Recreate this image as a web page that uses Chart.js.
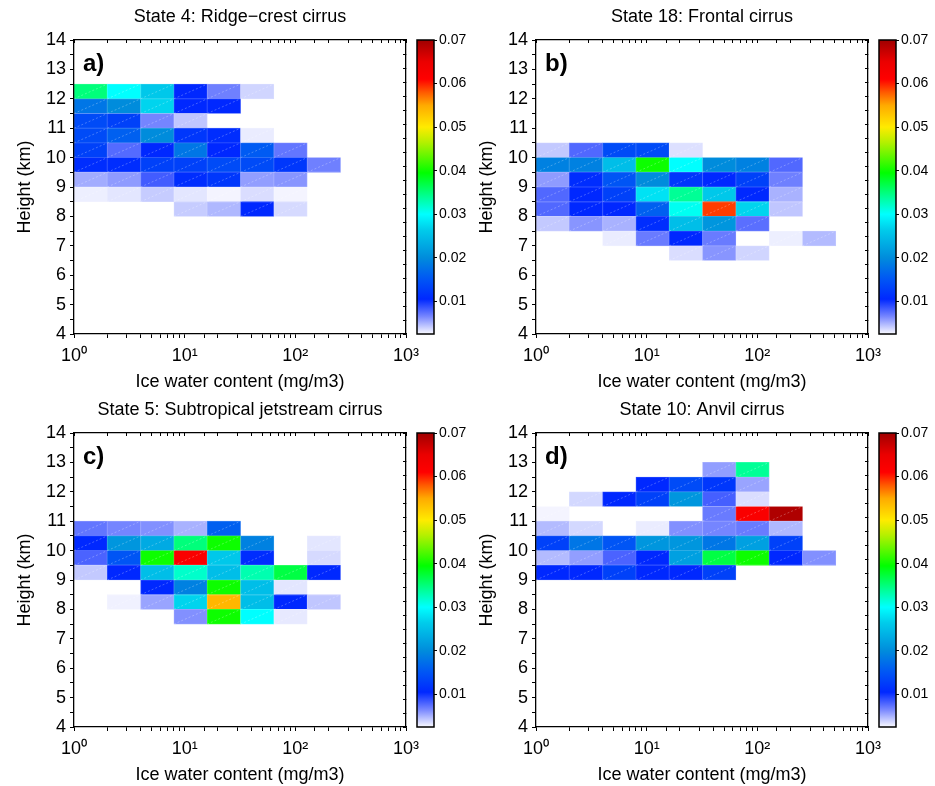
<!DOCTYPE html>
<html>
<head>
<meta charset="utf-8">
<title>Cirrus states: IWC vs height</title>
<script src="https://cdn.jsdelivr.net/npm/chart.js@4.4.1/dist/chart.umd.min.js"></script>
<style>
    html, body { margin: 0; padding: 0; background: #fff; overflow: hidden; }
    #fig { position: relative; width: 935px; height: 786px; overflow: hidden; background: #fff; }
    #fig canvas { position: absolute; }
</style>
</head>
<body>
<div id="fig">
    <canvas id="panelA" width="426" height="395" style="left:0;top:0"></canvas>
    <canvas id="cbarA" width="60" height="395" style="left:410px;top:0"></canvas>
    <canvas id="panelB" width="426" height="395" style="left:462px;top:0"></canvas>
    <canvas id="cbarB" width="60" height="395" style="left:872px;top:0"></canvas>
    <canvas id="panelC" width="426" height="395" style="left:0;top:393px"></canvas>
    <canvas id="cbarC" width="60" height="395" style="left:410px;top:393px"></canvas>
    <canvas id="panelD" width="426" height="395" style="left:462px;top:393px"></canvas>
    <canvas id="cbarD" width="60" height="395" style="left:872px;top:393px"></canvas>
</div>
<script>
// IWC bin edges (mg/m3), factor-2 bins
const iwcEdges = [1, 2, 4, 8, 16, 32, 64, 128, 256, 512];
// height bins are 0.5 km deep; rows below list each bin's lower edge (km)
const heightStep = 0.5;
const cbarTicks = [0.01, 0.02, 0.03, 0.04, 0.05, 0.06, 0.07];

// State 4: Ridge-crest cirrus
const ridgeHeights = [12.0, 11.5, 11.0, 10.5, 10.0, 9.5, 9.0, 8.5, 8.0];
const ridgeFreq = [
    [0.035, 0.030, 0.026, 0.0105, 0.0068, 0.0038, null, null, null],
    [0.018, 0.020, 0.027, 0.0105, 0.0105, null, null, null, null],
    [0.014, 0.013, 0.0066, 0.0043, null, null, null, null, null],
    [0.014, 0.016, 0.020, 0.012, 0.011, 0.0030, null, null, null],
    [0.013, 0.0077, 0.0105, 0.018, 0.0105, 0.0155, 0.0072, null, null],
    [0.011, 0.011, 0.013, 0.013, 0.014, 0.014, 0.012, 0.0068, null],
    [0.0052, 0.0058, 0.0083, 0.011, 0.012, 0.0057, 0.0060, null, null],
    [0.0029, 0.0032, 0.0041, 0.0032, 0.0027, 0.0035, 0.0027, null, null],
    [null, null, null, 0.0041, 0.0048, 0.0105, 0.0036, null, null]
];

// State 18: Frontal cirrus
const frontalHeights = [10.0, 9.5, 9.0, 8.5, 8.0, 7.5, 7.0, 6.5];
const frontalFreq = [
    [0.0042, 0.0078, 0.014, 0.014, 0.0034, null, null, null, null],
    [0.019, 0.019, 0.025, 0.040, 0.030, 0.020, 0.019, 0.0078, null],
    [0.0058, 0.011, 0.015, 0.020, 0.012, 0.0105, 0.013, 0.0068, null],
    [0.0078, 0.0105, 0.013, 0.028, 0.034, 0.026, 0.0105, 0.0050, null],
    [0.0078, 0.0105, 0.0105, 0.016, 0.0305, 0.059, 0.027, 0.0043, null],
    [0.0042, 0.0060, 0.0050, 0.011, 0.025, 0.021, 0.0075, null, null],
    [null, null, 0.0030, 0.0070, 0.0105, 0.0070, null, 0.0029, 0.0047],
    [null, null, null, null, 0.0035, 0.0060, 0.0038, null, null]
];

// State 5: Subtropical jetstream cirrus
const jetHeights = [10.5, 10.0, 9.5, 9.0, 8.5, 8.0, 7.5];
const jetFreq = [
    [0.0072, 0.0066, 0.0062, 0.0050, 0.016, null, null, null, null],
    [0.0105, 0.021, 0.023, 0.035, 0.040, 0.019, null, 0.0032, null],
    [0.0080, 0.015, 0.040, 0.062, 0.026, 0.011, null, 0.0036, null],
    [0.0042, 0.0105, 0.025, 0.032, 0.025, 0.033, 0.037, 0.0105, null],
    [null, null, 0.0105, 0.019, 0.040, 0.025, 0.0032, null, null],
    [null, 0.0028, 0.0055, 0.027, 0.054, 0.025, 0.0105, 0.0043, null],
    [null, null, null, 0.0062, 0.040, 0.030, 0.0031, null, null]
];

// State 10: Anvil cirrus
const anvilHeights = [12.5, 12.0, 11.5, 11.0, 10.5, 10.0, 9.5, 9.0];
const anvilFreq = [
    [null, null, null, null, null, 0.0057, 0.034, null, null],
    [null, null, null, 0.0105, 0.014, 0.012, 0.0055, null, null],
    [null, 0.0037, 0.0105, 0.013, 0.021, 0.0082, 0.0035, null, null],
    [0.0027, null, null, null, null, 0.0070, 0.062, 0.069, null],
    [0.0047, 0.0037, null, 0.0030, 0.0062, 0.0066, 0.0070, 0.0048, null],
    [0.013, 0.018, 0.015, 0.021, 0.021, 0.018, 0.022, 0.013, null],
    [0.0047, 0.0057, 0.0080, 0.0105, 0.022, 0.037, 0.040, 0.0105, 0.0062],
    [0.0105, 0.0105, 0.013, 0.0105, 0.0105, 0.013, null, null, null]
];

// colour scale: white -> blue -> cyan -> green -> yellow -> red -> dark red
const cbarMin = 0.0025;
const cbarMax = 0.07;
const cmapLevels = [0.0025, 0.0065, 0.0105, 0.015, 0.02, 0.0265, 0.03, 0.034, 0.0395, 0.0465, 0.05, 0.055, 0.058, 0.061, 0.065, 0.07];
const cmapColors = [
    [250, 250, 255], [120, 135, 255], [0, 40, 255], [0, 85, 245], [0, 140, 220], [0, 205, 235],
    [0, 255, 255], [0, 255, 150], [0, 255, 0], [180, 240, 0], [255, 235, 0], [255, 170, 0],
    [255, 90, 0], [255, 0, 0], [235, 0, 0], [160, 0, 0]
];

const FONT = "'Liberation Sans', Arial, Helvetica, sans-serif";
Chart.defaults.font.family = FONT;
Chart.defaults.color = '#000';

function mapColor(v) {
    if (v <= cmapLevels[0]) return cmapColors[0];
    for (let i = 1; i < cmapLevels.length; i++) {
        if (v <= cmapLevels[i]) {
            const t = (v - cmapLevels[i - 1]) / (cmapLevels[i] - cmapLevels[i - 1]);
            const a = cmapColors[i - 1], b = cmapColors[i];
            return a.map((c, k) => Math.round(c + (b[k] - c) * t));
        }
    }
    return cmapColors[cmapColors.length - 1];
}
const rgb = c => `rgb(${c[0]},${c[1]},${c[2]})`;
const lighten = (c, f) => rgb(c.map(x => Math.round(x + (255 - x) * f)));

// one floating horizontal bar per non-empty cell
function buildCells(heights, freq) {
    const cells = [];
    heights.forEach((h, r) => {
        freq[r].forEach((v, c) => {
            if (v === null) return;
            cells.push({ y: h + heightStep / 2, x: [iwcEdges[c], iwcEdges[c + 1]], v: v });
        });
    });
    return cells;
}

const SUP = { 0: '\u2070', 1: '\u00B9', 2: '\u00B2', 3: '\u00B3' };
function powerLabel(value) {
    const p = Math.log10(value);
    const r = Math.round(p);
    return Math.abs(p - r) < 1e-9 ? '10' + SUP[r] : '';
}

// axes are sized by hand so the plot box lands in the same place in every panel
function fixSize(prop, size) {
    return s => {
        s[prop] = size;
        s.paddingLeft = s.paddingRight = s.paddingTop = s.paddingBottom = 0;
    };
}

// faint diagonal seams across each cell
const cellSeams = {
    id: 'cellSeams',
    afterDatasetsDraw(chart) {
        const ctx = chart.ctx;
        ctx.save();
        ctx.strokeStyle = 'rgba(255,255,255,0.45)';
        ctx.lineWidth = 0.6;
        ctx.setLineDash([2, 2]);
        chart.getDatasetMeta(0).data.forEach(bar => {
            const { x, y, base, height } = bar.getProps(['x', 'y', 'base', 'height'], true);
            ctx.beginPath();
            ctx.moveTo(base, y + height / 2);
            ctx.lineTo(x, y - height / 2);
            ctx.stroke();
        });
        ctx.restore();
    }
};

// bold panel letter in the upper-left corner
const panelLetter = {
    id: 'panelLetter',
    afterDraw(chart, args, opts) {
        const { ctx, chartArea } = chart;
        ctx.save();
        ctx.font = `bold 24px ${FONT}`;
        ctx.fillStyle = '#000';
        ctx.textBaseline = 'alphabetic';
        ctx.fillText(opts.text, chartArea.left + 9, chartArea.top + 31);
        ctx.restore();
    }
};

const axisFont = { size: 18, family: FONT };
const frameBorder = { display: true, color: '#000', width: 1.3, z: 2 };

function makePanel(id, title, letter, heights, freq) {
    const el = document.getElementById(id);
    new Chart(el.getContext('2d'), {
        type: 'bar',
        data: {
            datasets: [{
                data: buildCells(heights, freq),
                xAxisID: 'x',
                yAxisID: 'y',
                categoryPercentage: 1,
                barPercentage: 1,
                borderWidth: 0.8,
                borderSkipped: false,
                backgroundColor: c => rgb(mapColor(c.raw.v)),
                borderColor: c => lighten(mapColor(c.raw.v), 0.2)
            }]
        },
        options: {
            responsive: false,
            animation: false,
            indexAxis: 'y',
            layout: { padding: { top: 0, right: 20, bottom: 0, left: 0 } },
            plugins: {
                legend: { display: false },
                tooltip: { enabled: false },
                title: {
                    display: true,
                    text: title,
                    fullSize: false,
                    color: '#000',
                    font: { size: 18, weight: 'normal', family: FONT },
                    padding: { top: 6, bottom: 12.4 }
                },
                panelLetter: { text: letter }
            },
            scales: {
                x: {
                    type: 'logarithmic',
                    position: 'bottom',
                    min: 1,
                    max: 1000,
                    afterFit: fixSize('height', 61),
                    border: frameBorder,
                    grid: { drawOnChartArea: false, tickLength: 4, color: '#000', z: 2 },
                    ticks: { autoSkip: false, maxRotation: 0, padding: 7, font: axisFont, callback: powerLabel },
                    title: { display: true, text: 'Ice water content (mg/m3)', font: axisFont, padding: { top: 0, bottom: 2 } }
                },
                xTop: {
                    type: 'logarithmic',
                    position: 'top',
                    min: 1,
                    max: 1000,
                    afterFit: fixSize('height', 0),
                    border: frameBorder,
                    grid: { drawOnChartArea: false, tickLength: -3, color: '#000', z: 2 },
                    ticks: { display: false, autoSkip: false }
                },
                y: {
                    type: 'linear',
                    position: 'left',
                    min: 4,
                    max: 14,
                    offset: false,
                    afterFit: fixSize('width', 74),
                    border: frameBorder,
                    grid: { drawOnChartArea: false, offset: false, tickLength: 4, color: '#000', z: 2 },
                    ticks: {
                        stepSize: 0.5, autoSkip: false, padding: 4, font: axisFont,
                        callback: v => Number.isInteger(v) ? v : ''
                    },
                    title: { display: true, text: 'Height (km)', font: axisFont, padding: { top: 14, bottom: 0 } }
                },
                yRight: {
                    type: 'linear',
                    position: 'right',
                    min: 4,
                    max: 14,
                    afterFit: fixSize('width', 0),
                    border: frameBorder,
                    grid: { drawOnChartArea: false, tickLength: -3, color: '#000', z: 2 },
                    ticks: { display: false, stepSize: 0.5, autoSkip: false }
                }
            }
        },
        plugins: [cellSeams, panelLetter]
    });
}

// gradient strip painted over the colour bar's chart area
const colorbarFill = {
    id: 'colorbarFill',
    beforeDatasetsDraw(chart) {
        const { ctx, chartArea: a } = chart;
        const ys = chart.scales.y;
        const g = ctx.createLinearGradient(0, a.bottom, 0, a.top);
        cmapLevels.forEach((lv, i) => {
            const off = (a.bottom - ys.getPixelForValue(lv)) / (a.bottom - a.top);
            g.addColorStop(Math.min(1, Math.max(0, off)), rgb(cmapColors[i]));
        });
        ctx.save();
        ctx.fillStyle = g;
        ctx.fillRect(a.left, a.top, a.right - a.left, a.bottom - a.top);
        ctx.lineWidth = 1.5;
        ctx.strokeStyle = '#000';
        ctx.strokeRect(a.left, a.top, a.right - a.left, a.bottom - a.top);
        ctx.restore();
    }
};

function makeColorbar(id) {
    const el = document.getElementById(id);
    new Chart(el.getContext('2d'), {
        type: 'scatter',
        data: { datasets: [] },
        options: {
            responsive: false,
            animation: false,
            layout: { padding: { left: 7, top: 40, bottom: 61, right: 0 } },
            plugins: { legend: { display: false }, tooltip: { enabled: false } },
            scales: {
                x: { display: false, min: 0, max: 1 },
                y: {
                    position: 'right',
                    min: cbarMin,
                    max: cbarMax,
                    afterFit: fixSize('width', 36),
                    afterBuildTicks: s => { s.ticks = cbarTicks.map(v => ({ value: v })); },
                    border: { display: false },
                    grid: { drawOnChartArea: false, tickLength: 3, color: '#000' },
                    ticks: { padding: 2, font: { size: 14, family: FONT }, callback: v => v.toFixed(2) }
                }
            }
        },
        plugins: [colorbarFill]
    });
}

document.addEventListener('DOMContentLoaded', function () {
    makePanel('panelA', 'State 4: Ridge\u2212crest cirrus', 'a)', ridgeHeights, ridgeFreq);
    makePanel('panelB', 'State 18: Frontal cirrus', 'b)', frontalHeights, frontalFreq);
    makePanel('panelC', 'State 5: Subtropical jetstream cirrus', 'c)', jetHeights, jetFreq);
    makePanel('panelD', 'State 10: Anvil cirrus', 'd)', anvilHeights, anvilFreq);
    ['cbarA', 'cbarB', 'cbarC', 'cbarD'].forEach(makeColorbar);
});
</script>
</body>
</html>
